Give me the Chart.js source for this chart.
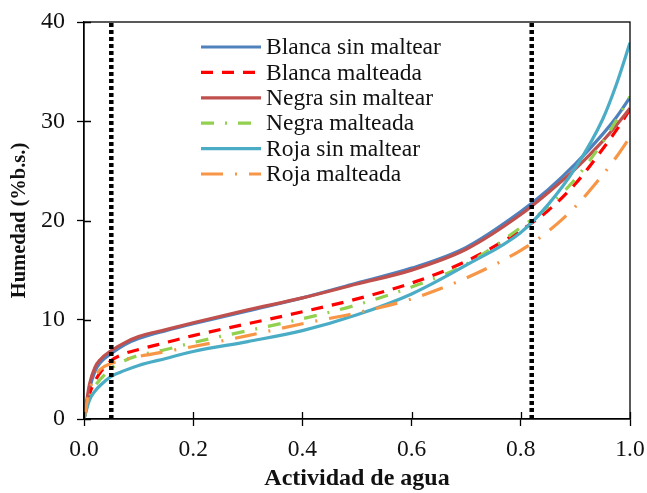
<!DOCTYPE html>
<html>
<head>
<meta charset="utf-8">
<script src="https://cdn.jsdelivr.net/npm/chart.js@4.4.0/dist/chart.umd.min.js"></script>
<style>
  html, body { margin: 0; padding: 0; background: #fff; }
  #wrap { width: 647px; height: 493px; }
</style>
</head>
<body>
<div id="wrap"><canvas id="myChart" width="647" height="493"></canvas></div>
<script>
// water activity (x) and moisture values
const aw = [0, 0.01, 0.02, 0.03, 0.05, 0.075, 0.1, 0.15, 0.2, 0.3, 0.4, 0.5, 0.6, 0.7, 0.8, 0.85, 0.9, 0.95, 0.975, 1.0];
const blancaSin = [0, 3.0, 4.8, 5.7, 6.6, 7.5, 8.1, 8.9, 9.6, 10.9, 12.2, 13.7, 15.2, 17.3, 20.9, 23.1, 25.7, 28.7, 30.4, 32.4];
const blancaMal = [0, 2.5, 3.8, 4.7, 5.9, 6.6, 7.0, 7.7, 8.4, 9.6, 10.8, 12.1, 13.7, 15.9, 19.0, 21.0, 23.7, 27.2, 29.1, 31.2];
const negraSin  = [0, 3.5, 5.2, 6.0, 6.9, 7.7, 8.3, 9.0, 9.7, 11.0, 12.2, 13.6, 15.0, 17.1, 20.6, 22.8, 25.2, 28.0, 29.6, 31.3];
const negraMal  = [0, 2.2, 3.3, 4.0, 5.1, 5.9, 6.4, 7.0, 7.7, 8.9, 10.1, 11.5, 13.3, 15.6, 19.3, 21.4, 24.2, 27.9, 30.1, 32.5];
const rojaSin   = [0, 1.9, 2.8, 3.4, 4.3, 4.9, 5.4, 6.1, 6.8, 7.8, 8.9, 10.5, 12.6, 15.5, 18.8, 21.6, 25.3, 30.2, 33.7, 37.9];
const rojaMal   = [0, 2.9, 4.2, 5.0, 5.6, 6.0, 6.3, 6.8, 7.3, 8.4, 9.6, 10.7, 12.1, 14.2, 17.0, 18.9, 21.4, 24.6, 26.4, 28.4];

const seriesLabels = ['Blanca sin maltear', 'Blanca malteada', 'Negra sin maltear', 'Negra malteada', 'Roja sin maltear', 'Roja malteada'];
const seriesValues = [blancaSin, blancaMal, negraSin, negraMal, rojaSin, rojaMal];
const seriesColors = ['#4F81BD', '#FF0000', '#C0504D', '#92D050', '#4BACC6', '#F79646'];
const seriesDash = [[], [12, 9], [], [13, 11, 2, 11], [], [22, 12, 2, 12]];

// vertical dotted reference lines
const limitAw = [0.05, 0.82];
const limitY = [0, 40];

const xTicks = [0, 0.2, 0.4, 0.6, 0.8, 1.0];
const yTicks = [0, 10, 20, 30, 40];

const FONT = "'Liberation Serif', 'Times New Roman', serif";

var datasets = [];
for (var i = 0; i < seriesValues.length; i++) {
  datasets.push({
    label: seriesLabels[i],
    data: aw.map(function (x, j) { return { x: x, y: seriesValues[i][j] }; }),
    borderColor: seriesColors[i],
    borderDash: seriesDash[i],
    borderWidth: 3.2,
    pointRadius: 0,
    cubicInterpolationMode: 'monotone',
    fill: false,
    order: 6 - i
  });
}
limitAw.forEach(function (x) {
  datasets.push({
    label: '',
    data: limitY.map(function (y) { return { x: x, y: y }; }),
    borderColor: '#000',
    borderDash: [4, 3],
    borderWidth: 4.5,
    borderCapStyle: 'butt',
    pointRadius: 0,
    order: -10
  });
});

// frame, inner ticks and legend
const extras = {
  id: 'extras',
  afterDraw: function (chart) {
    const ctx = chart.ctx, a = chart.chartArea;
    const xs = chart.scales.x, ys = chart.scales.y;
    ctx.save();
    ctx.strokeStyle = '#000';
    ctx.lineWidth = 1.3;
    ctx.strokeRect(a.left, a.top, a.right - a.left, a.bottom - a.top);
    ctx.beginPath();
    xTicks.forEach(function (v) {
      var px = Math.round(xs.getPixelForValue(v)) + 0.5;
      ctx.moveTo(px, a.bottom); ctx.lineTo(px, a.bottom - 7);
    });
    yTicks.forEach(function (v) {
      var py = Math.round(ys.getPixelForValue(v)) + 0.5;
      ctx.moveTo(a.left, py); ctx.lineTo(a.left + 7, py);
    });
    ctx.stroke();

    // legend
    ctx.font = '23.5px ' + FONT;
    ctx.textBaseline = 'middle';
    ctx.fillStyle = '#111';
    for (var i = 0; i < seriesLabels.length; i++) {
      var y = a.top + 25 + i * 25.4;
      var x0 = a.left + 117;
      ctx.beginPath();
      ctx.strokeStyle = seriesColors[i];
      ctx.lineWidth = 3.2;
      ctx.setLineDash(seriesDash[i]);
      ctx.moveTo(x0, y); ctx.lineTo(x0 + 60, y);
      ctx.stroke();
      ctx.setLineDash([]);
      ctx.fillText(seriesLabels[i], x0 + 65, y + 1);
    }
    ctx.restore();
  }
};

new Chart(document.getElementById('myChart'), {
  type: 'line',
  data: { datasets: datasets },
  plugins: [extras],
  options: {
    responsive: false,
    animation: false,
    layout: { padding: { top: 22, right: 17, left: 0, bottom: 0 } },
    plugins: { legend: { display: false }, tooltip: { enabled: false } },
    scales: {
      x: {
        type: 'linear', min: 0, max: 1,
        afterBuildTicks: function (s) { s.ticks = xTicks.map(function (v) { return { value: v }; }); },
        afterFit: function (s) { s.height = 74; s.paddingLeft = 0; s.paddingRight = 0; },
        grid: { drawOnChartArea: false, tickLength: 7, color: '#000', tickWidth: 1.3 },
        border: { color: '#000', width: 1.3 },
        ticks: { color: '#111', padding: 10, maxRotation: 0, font: { family: FONT, size: 23.5 },
          callback: function (v) { return v.toFixed(1); } },
        title: { display: true, text: 'Actividad de agua', color: '#111', padding: { top: 0, bottom: 0 },
          font: { family: FONT, size: 24, weight: 'bold' } }
      },
      y: {
        min: 0, max: 40,
        afterBuildTicks: function (s) { s.ticks = yTicks.map(function (v) { return { value: v }; }); },
        afterFit: function (s) { s.width = 84; s.paddingTop = 0; s.paddingBottom = 0; },
        grid: { drawOnChartArea: false, tickLength: 7, color: '#000', tickWidth: 1.3 },
        border: { color: '#000', width: 1.3 },
        ticks: { color: '#111', padding: 12, font: { family: FONT, size: 24 } },
        title: { display: true, text: 'Humedad (%b.s.)', color: '#111', padding: { top: 7, bottom: 0 },
          font: { family: FONT, size: 20.5, weight: 'bold' } }
      }
    }
  }
});
</script>
</body>
</html>
